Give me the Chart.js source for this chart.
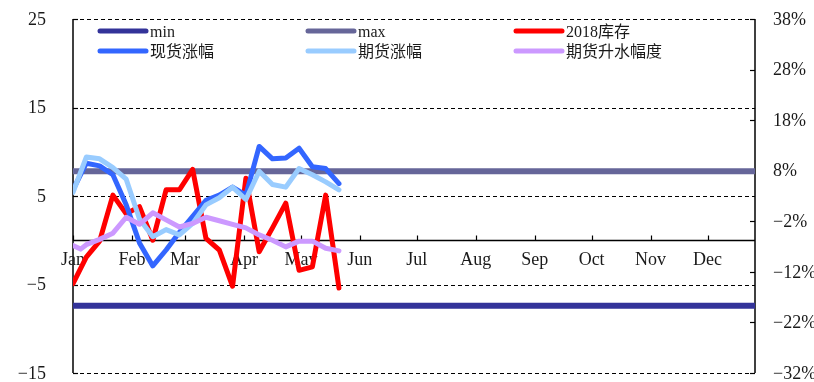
<!DOCTYPE html>
<html>
<head>
<meta charset="utf-8">
<script src="https://cdn.jsdelivr.net/npm/chart.js@4/dist/chart.umd.min.js"></script>
<style>
  html, body { margin: 0; padding: 0; background: #fff; }
  #wrap { width: 814px; height: 382px; }
</style>
</head>
<body>
<div id="wrap"><canvas id="c" width="814" height="382"></canvas></div>
<script>
// Day-of-year positions of the weekly observations
const weekDays = [0, 7, 14, 21, 28, 35, 42, 49, 56, 63, 70, 77, 84, 91, 98, 105, 112, 119, 126, 133, 140];
const premiumDays = [0, 4, 7, 14, 21, 28, 35, 42, 49, 56, 63, 70, 77, 84, 91, 98, 105, 112, 119, 126, 133, 140];
const rangeDays = [0, 359];

// Month axis
const monthStarts = [0, 31, 59, 90, 120, 151, 181, 212, 243, 273, 304, 334];
const monthLabels = ['Jan', 'Feb', 'Mar', 'Apr', 'May', 'Jun', 'Jul', 'Aug', 'Sep', 'Oct', 'Nov', 'Dec'];

// Series
const minLevel = [-7.4, -7.4];
const maxLevel = [7.8, 7.8];
const stock2018 = [-4.9, -1.9, -0.1, 5.1, 3.0, 3.8, 0.0, 5.7, 5.7, 8.0, 0.2, -1.1, -5.2, 7.0, -1.3, 1.4, 4.2, -3.4, -3.0, 5.1, -5.4];
const spotChange = [5.7, 8.7, 8.4, 7.4, 4.0, -0.3, -2.9, -1.1, 0.9, 2.7, 4.5, 5.1, 6.0, 5.1, 10.6, 9.2, 9.3, 10.4, 8.3, 8.1, 6.4];
const futuresChange = [5.4, 9.4, 9.2, 8.2, 6.9, 2.4, 0.4, 1.2, 0.6, 1.9, 4.0, 4.8, 6.0, 4.6, 7.8, 6.3, 6.0, 8.1, 7.4, 6.6, 5.7];
const futuresPremium = [-0.6, -1.0, -0.5, 0.1, 0.8, 2.6, 1.8, 3.1, 2.3, 1.5, 1.9, 2.6, 2.2, 1.8, 1.4, 0.6, 0.0, -0.75, -0.1, -0.1, -0.9, -1.2];

// Axis ranges
const leftRange = [-15, 25];
const rightRange = [-32, 38];
const tickStep = 10;

const FONT = "'Liberation Serif', 'Noto Sans CJK SC', serif";
const TEXT = '#1a1a1a';
const toPoints = (xs, ys) => xs.map((d, i) => ({ x: d, y: ys[i] }));
const minus = s => String(s).replace('-', '\u2212');

const series = [
  { label: 'min', days: rangeDays, values: minLevel, color: '#333399', width: 6, order: 6 },
  { label: 'max', days: rangeDays, values: maxLevel, color: '#666699', width: 6, order: 5 },
  { label: '2018库存', days: weekDays, values: stock2018, color: '#FF0000', width: 5, order: 4 },
  { label: '现货涨幅', days: weekDays, values: spotChange, color: '#3366FF', width: 5, order: 3 },
  { label: '期货涨幅', days: weekDays, values: futuresChange, color: '#99CCFF', width: 5, order: 2 },
  { label: '期货升水幅度', days: premiumDays, values: futuresPremium, color: '#CC99FF', width: 5, order: 1 }
];

// Dashed grid, solid frame, zero axis with month ticks, axis labels and legend
const framePlugin = {
  id: 'frame',
  beforeDatasetsDraw(chart) {
    const { ctx, chartArea: a, scales } = chart;
    const y = scales.y, y2 = scales.y2, x = scales.x;
    const line = (x1, y1, x2, y2_) => { ctx.beginPath(); ctx.moveTo(x1, y1); ctx.lineTo(x2, y2_); ctx.stroke(); };
    ctx.save();
    ctx.strokeStyle = '#000';
    ctx.lineWidth = 1;
    ctx.setLineDash([4, 3]);
    y.ticks.forEach(t => {
      const py = Math.round(y.getPixelForValue(t.value)) + 0.5;
      line(a.left, py, a.right, py);
    });
    ctx.setLineDash([]);
    ctx.lineWidth = 1.5;
    line(a.left, a.top, a.left, a.bottom);
    line(a.right, a.top, a.right, a.bottom);
    const zy = Math.round(y.getPixelForValue(0)) + 0.5;
    line(a.left, zy, a.right, zy);
    ctx.lineWidth = 1.2;
    y.ticks.forEach(t => {
      const py = Math.round(y.getPixelForValue(t.value)) + 0.5;
      line(a.left, py, a.left + 5, py);
    });
    y2.ticks.forEach(t => {
      const py = Math.round(y2.getPixelForValue(t.value)) + 0.5;
      line(a.right - 5, py, a.right, py);
    });
    monthStarts.forEach(d => {
      const px = Math.round(x.getPixelForValue(d)) + 0.5;
      line(px, zy, px, zy - 5);
    });

    ctx.fillStyle = TEXT;
    ctx.font = '18px ' + FONT;
    ctx.textBaseline = 'middle';
    ctx.textAlign = 'center';
    monthStarts.forEach((d, i) => {
      ctx.fillText(monthLabels[i], x.getPixelForValue(d), zy + 20);
    });
    ctx.textAlign = 'right';
    y.ticks.forEach(t => {
      ctx.fillText(minus(t.value), a.left - 27, y.getPixelForValue(t.value) + 1);
    });
    ctx.textAlign = 'left';
    y2.ticks.forEach(t => {
      ctx.fillText(minus(t.value) + '%', a.right + 18, y2.getPixelForValue(t.value) + 1);
    });
    ctx.restore();
  },
  afterDraw(chart) {
    const { ctx } = chart;
    const cols = [100, 308, 516];
    const rows = [31, 51];
    ctx.save();
    ctx.font = '16px ' + FONT;
    ctx.textBaseline = 'middle';
    ctx.textAlign = 'left';
    ctx.lineCap = 'round';
    series.forEach((s, i) => {
      const cx = cols[i % 3], cy = rows[Math.floor(i / 3)];
      ctx.strokeStyle = s.color;
      ctx.lineWidth = 5;
      ctx.beginPath();
      ctx.moveTo(cx, cy);
      ctx.lineTo(cx + 46, cy);
      ctx.stroke();
      ctx.fillStyle = TEXT;
      ctx.fillText(s.label, cx + 50, cy + 2);
    });
    ctx.restore();
  }
};

const quietAxis = {
  grid: { display: false, drawTicks: false },
  border: { display: false },
  ticks: { display: false, stepSize: tickStep }
};

new Chart(document.getElementById('c'), {
  type: 'line',
  data: {
    datasets: series.map(s => ({
      label: s.label,
      data: toPoints(s.days, s.values),
      borderColor: s.color,
      backgroundColor: s.color,
      borderWidth: s.width,
      borderCapStyle: 'round',
      borderJoinStyle: 'round',
      pointRadius: 0,
      tension: 0,
      fill: false,
      order: s.order,
      yAxisID: 'y'
    }))
  },
  options: {
    responsive: false,
    animation: false,
    devicePixelRatio: 1,
    layout: { padding: { top: 19, bottom: 9, left: 0, right: 0 } },
    plugins: { legend: { display: false }, tooltip: { enabled: false } },
    scales: {
      x: { type: 'linear', min: rangeDays[0], max: rangeDays[1], display: false },
      y: Object.assign({}, quietAxis, {
        position: 'left', min: leftRange[0], max: leftRange[1],
        afterFit(s) { s.width = 73; }
      }),
      y2: Object.assign({}, quietAxis, {
        position: 'right', min: rightRange[0], max: rightRange[1],
        afterFit(s) { s.width = 59; }
      })
    }
  },
  plugins: [framePlugin]
});
</script>
</body>
</html>
